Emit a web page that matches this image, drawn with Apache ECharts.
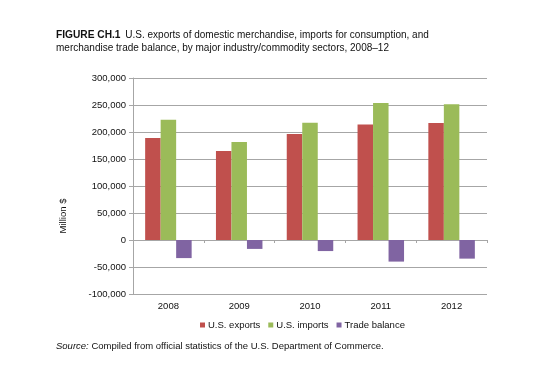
<!DOCTYPE html>
<html><head><meta charset="utf-8">
<script src="https://cdn.jsdelivr.net/npm/echarts@6/dist/echarts.min.js"></script>
<style>html,body{margin:0;padding:0;background:#fff}#c{width:554px;height:369px}</style>
</head><body><div id="c"></div>
<script>
const categories = ['2008', '2009', '2010', '2011', '2012'];
const exportsData = [189000, 165000, 196500, 214000, 216500];
const importsData = [222500, 181500, 217000, 253500, 251500];
const balanceData = [-33500, -16500, -20500, -40000, -34500];
const seriesNames = ['U.S. exports', 'U.S. imports', 'Trade balance'];
const yTicks = { min: -100000, max: 300000, interval: 50000 };
const titleBold = 'FIGURE CH.1';
const titleLine1 = 'U.S. exports of domestic merchandise, imports for consumption, and';
const titleLine2 = 'merchandise trade balance, by major industry/commodity sectors, 2008\u201312';
const sourceLabel = 'Source:';
const sourceText = 'Compiled from official statistics of the U.S. Department of Commerce.';
const yName = 'Million $';

const FONT = '"Liberation Sans", Arial, sans-serif';
const colors = ['#C0504D', '#9BBB59', '#8064A2'];
const chart = echarts.init(document.getElementById('c'), null, {renderer: 'canvas'});
const fmt = v => v.toLocaleString('en-US');

chart.setOption({
  animation: false,
  color: colors,
  textStyle: { fontFamily: FONT },
  grid: { left: 133, right: 67, top: 78, bottom: 75, containLabel: false },
  graphic: [
    { type: 'text', left: 56, top: 29, style: {
      text: '{b|' + titleBold + '} ' + titleLine1 + '\n' + titleLine2,
      font: '10px ' + FONT, fill: '#111', lineHeight: 12.5,
      rich: { b: { fontWeight: 'bold', fontSize: 10.2, fontFamily: FONT, fill: '#111', padding: [0, 2, 0, 0] } }
    }},
    { type: 'text', x: 63, y: 216, rotation: Math.PI / 2, style: {
      text: yName, font: '9.5px ' + FONT, fill: '#111', align: 'center', verticalAlign: 'middle'
    }},
    { type: 'text', left: 56, top: 341, style: {
      text: '{i|' + sourceLabel + '} ' + sourceText,
      font: '9.5px ' + FONT, fill: '#111',
      rich: { i: { fontStyle: 'italic', fontSize: 9.5, fontFamily: FONT, fill: '#111' } }
    }}
  ],
  legend: {
    data: seriesNames, left: 195, top: 315, itemWidth: 5, itemHeight: 5, itemGap: 8,
    icon: 'rect', textStyle: { fontSize: 9.5, color: '#111', fontFamily: FONT, padding: [0, 0, 0, -2] }
  },
  xAxis: [
    { type: 'category', data: categories, position: 'bottom',
      axisLine: { show: false, onZero: false }, axisTick: { show: false },
      axisLabel: { fontSize: 9.5, color: '#111', margin: 7, fontFamily: FONT } },
    { type: 'category', data: categories, position: 'top',
      axisLine: { show: true, onZero: true, lineStyle: { color: '#A6A6A6', width: 1 } },
      axisTick: { show: true, inside: true, length: 3, lineStyle: { color: '#A6A6A6' } },
      axisLabel: { show: false } }
  ],
  yAxis: {
    type: 'value', min: yTicks.min, max: yTicks.max, interval: yTicks.interval,
    axisLine: { show: true, lineStyle: { color: '#A6A6A6' } },
    axisTick: { show: true, length: 4, lineStyle: { color: '#A6A6A6' } },
    splitLine: { lineStyle: { color: '#A6A6A6', width: 1 } },
    axisLabel: { formatter: fmt, fontSize: 9.5, color: '#111', margin: 7, fontFamily: FONT }
  },
  series: [
    { name: seriesNames[0], type: 'bar', data: exportsData, barWidth: 15.5, barGap: '0%' },
    { name: seriesNames[1], type: 'bar', data: importsData, barWidth: 15.5, barGap: '0%' },
    { name: seriesNames[2], type: 'bar', data: balanceData, barWidth: 15.5, barGap: '0%' }
  ]
});
</script></body></html>
